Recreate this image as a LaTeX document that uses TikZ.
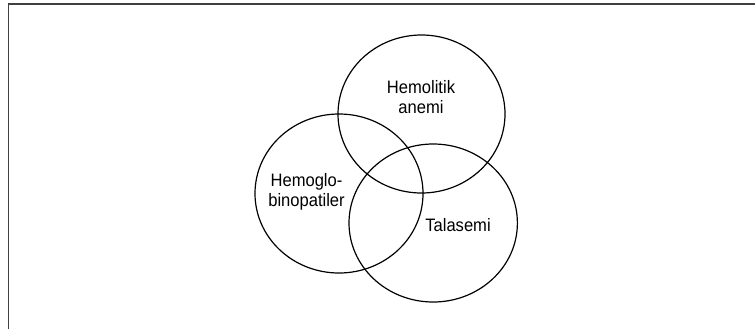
\documentclass[tikz,border=0pt]{standalone}
\usepackage{fontspec}
\setmainfont{Liberation Sans}[FakeStretch=0.92]
\begin{document}
\begin{tikzpicture}[x=0.75pt,y=0.75pt,yscale=-1,xscale=1]
\tikzset{setlabel/.style={inner sep=0pt,align=center,font=\fontsize{13.5}{15}\selectfont}}
\useasboundingbox (0,0) rectangle (755,329);
\draw [color={rgb, 255:red, 64; green, 64; blue, 64 }  ,line width=1.1pt ]   (8.5,329) -- (8.5,4) -- (755,4) ;
\draw [line width=0.9pt]   (421.5,114) ellipse (83.5 and 79) ;
\draw [line width=0.9pt]   (339,193.5) ellipse (84 and 79.5) ;
\draw [line width=0.9pt]   (433.2,223) ellipse (84.2 and 79) ;
\draw (421,97.5) node (hemolitik) [setlabel]  {Hemolitik\\anemi};
\draw (306.5,192) node (hemoglobin) [setlabel]  {Hemoglo-\\binopatiler};
\draw (458,231.7) node (talasemi) [setlabel,anchor=base]  {Talasemi};
\end{tikzpicture}
\end{document}
